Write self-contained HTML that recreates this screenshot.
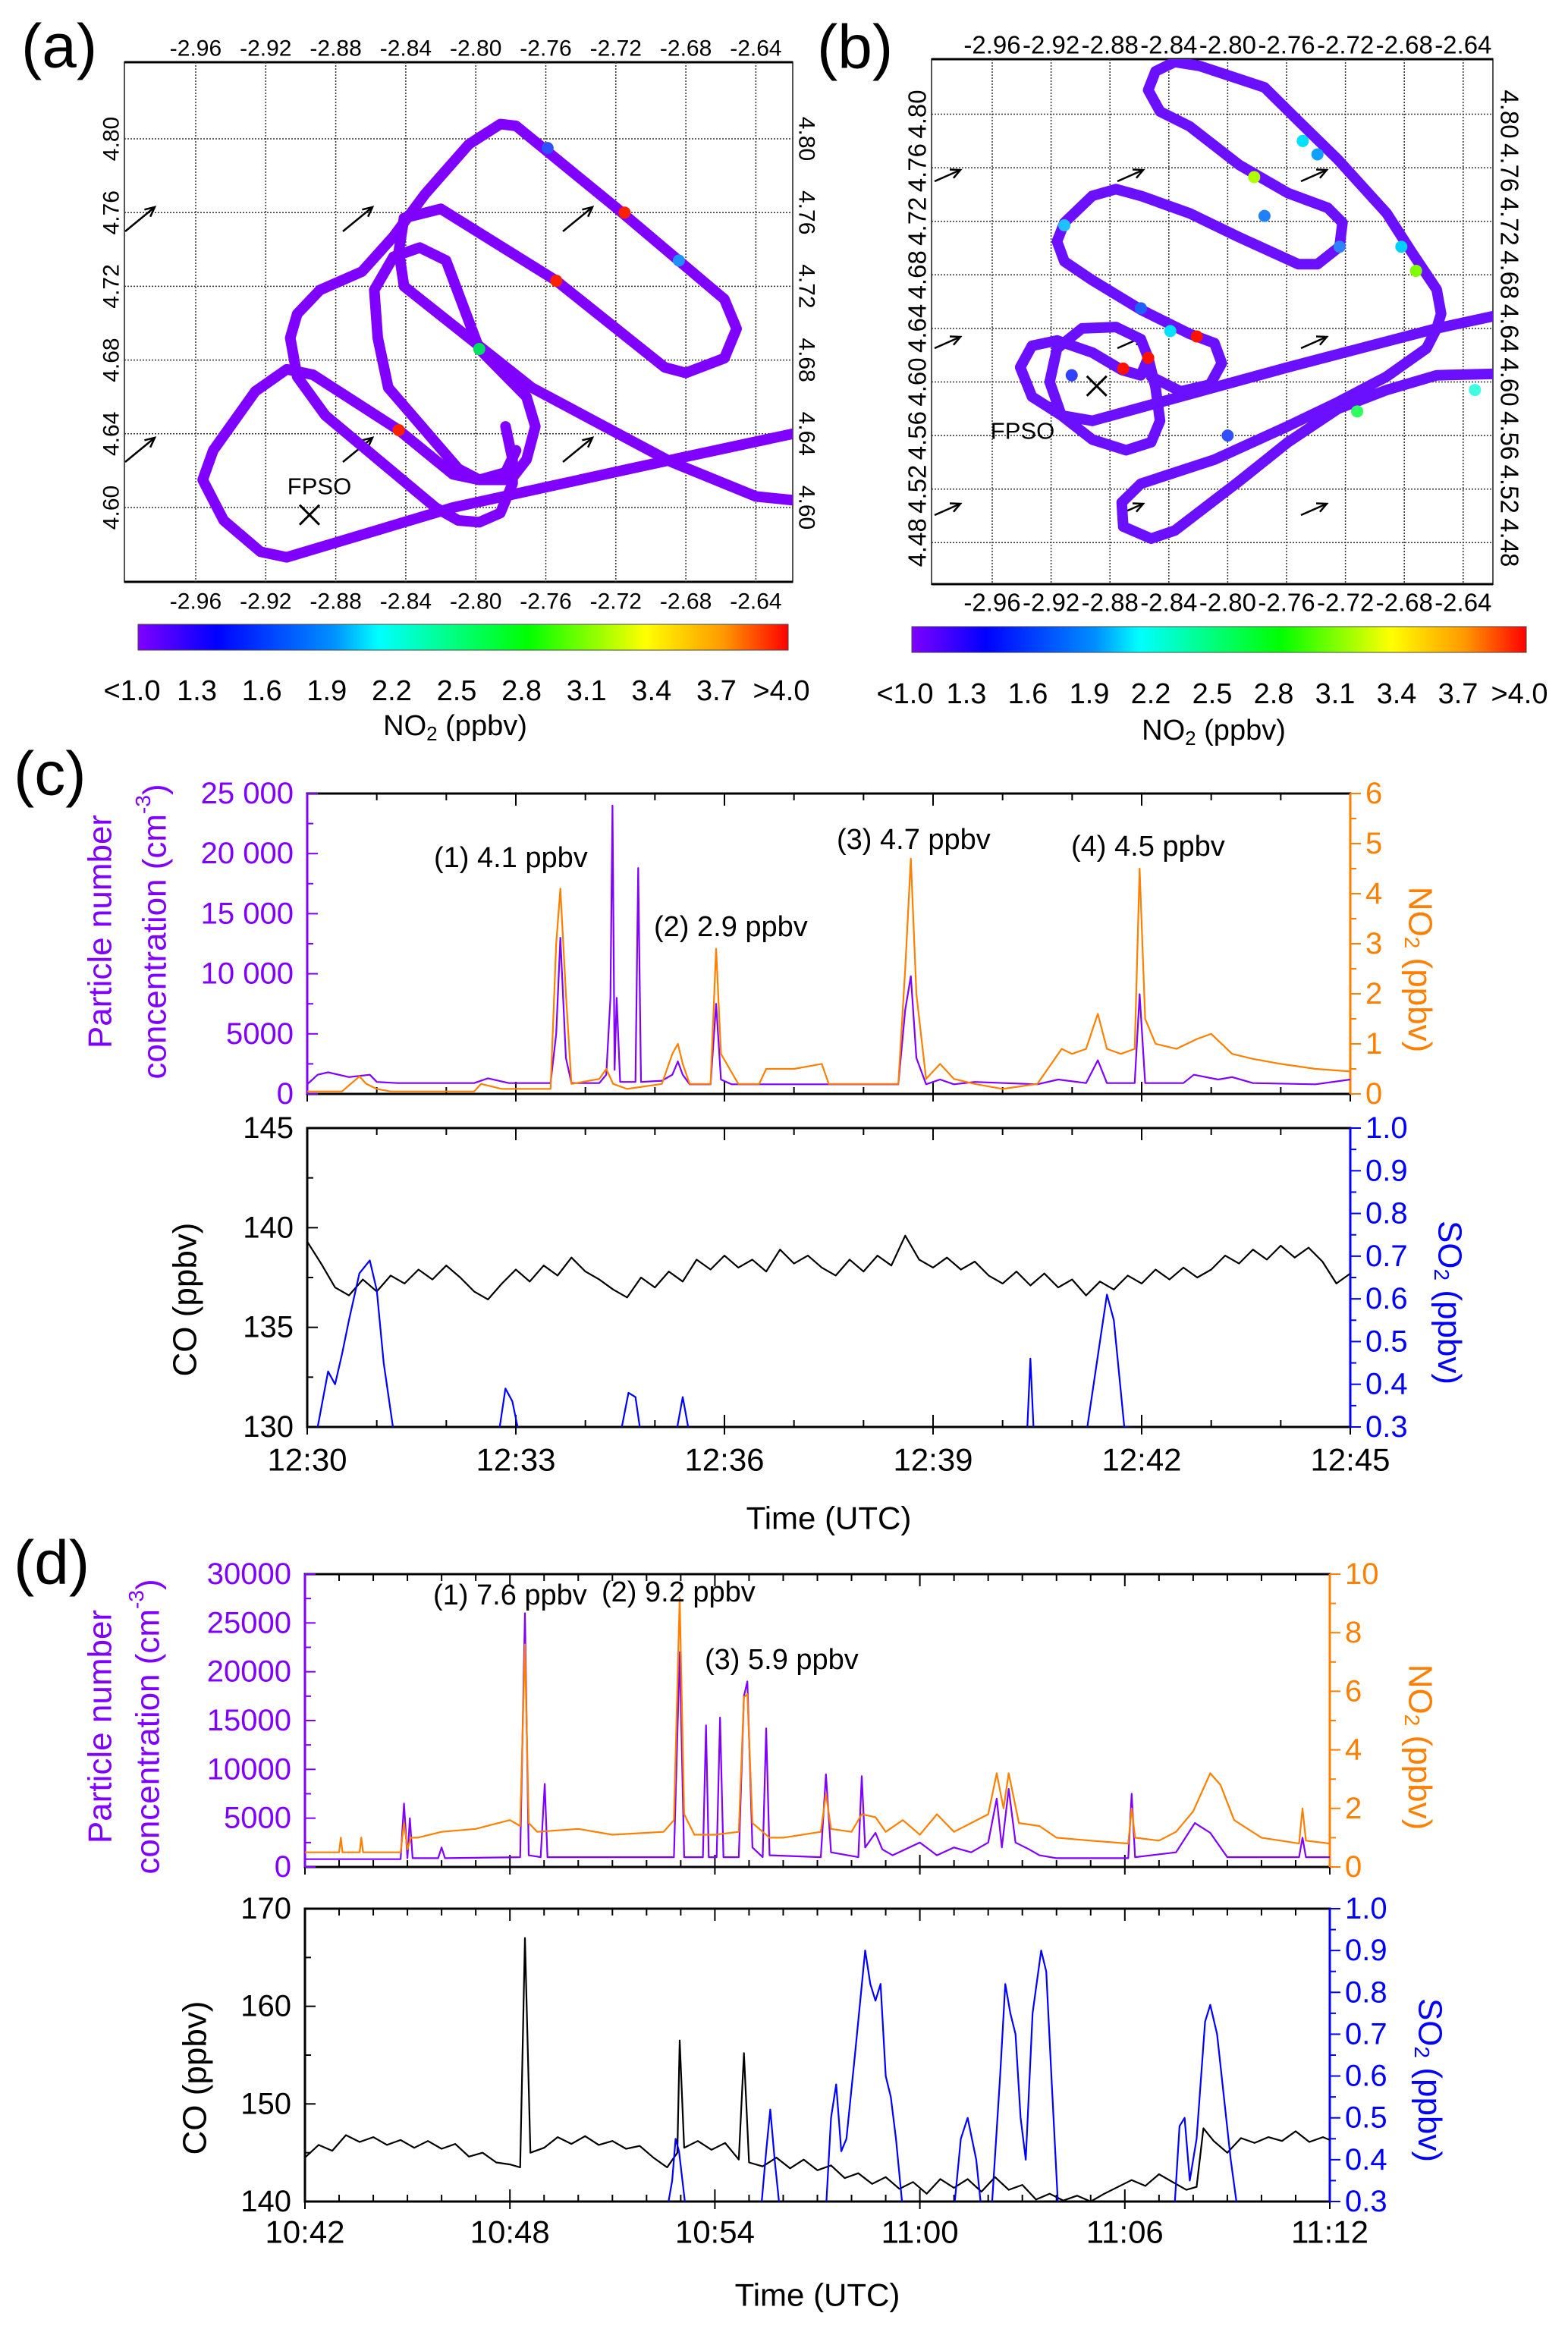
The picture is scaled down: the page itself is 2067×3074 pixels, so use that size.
<!DOCTYPE html>
<html><head><meta charset="utf-8"><style>
html,body{margin:0;padding:0;background:#fff}
svg{display:block;font-family:"Liberation Sans",Arial,sans-serif}
</style></head><body>
<svg id="fig" width="2067" height="3074" viewBox="0 0 2067 3074" xmlns="http://www.w3.org/2000/svg">
<defs>
<linearGradient id="cbar" x1="0" x2="1" y1="0" y2="0">
<stop offset="0" stop-color="#7f00ff"/><stop offset="0.12" stop-color="#0000ff"/><stop offset="0.3" stop-color="#0090ff"/><stop offset="0.37" stop-color="#00ffff"/><stop offset="0.6" stop-color="#00ff00"/><stop offset="0.78" stop-color="#ffff00"/><stop offset="0.9" stop-color="#ff9900"/><stop offset="1" stop-color="#ff0000"/>
</linearGradient>
<clipPath id="clipA"><rect x="164" y="82" width="881" height="685"/></clipPath>
<clipPath id="clipB"><rect x="1228" y="78" width="740" height="692"/></clipPath>
<clipPath id="clipC1"><rect x="405" y="1040" width="1375" height="402"/></clipPath>
<clipPath id="clipC2"><rect x="405" y="1487" width="1375" height="394"/></clipPath>
<clipPath id="clipD1"><rect x="402" y="2070" width="1351" height="391"/></clipPath>
<clipPath id="clipD2"><rect x="402" y="2516" width="1351" height="386"/></clipPath>
</defs>
</svg>
<script>
// ===== Map (a) data =====
const aLatTicks=[4.60,4.64,4.68,4.72,4.76,4.80];
const lonTicks=[-2.96,-2.92,-2.88,-2.84,-2.80,-2.76,-2.72,-2.68,-2.64];
const aTrackLine=[[-2.908,4.573],[-2.813,4.600],[-2.707,4.622],[-2.619,4.640]];
const aTrackLeft=[[-2.908,4.573],[-2.923,4.576],[-2.944,4.593],[-2.956,4.615],[-2.950,4.631],[-2.926,4.663],[-2.908,4.675],[-2.893,4.672],[-2.844,4.642],[-2.813,4.618],[-2.798,4.615],[-2.783,4.619],[-2.777,4.631]];
const aTrackInner=[[-2.832,4.741],[-2.817,4.734],[-2.798,4.686],[-2.771,4.660],[-2.766,4.644],[-2.771,4.626],[-2.780,4.615],[-2.798,4.615],[-2.810,4.621],[-2.850,4.665],[-2.856,4.692],[-2.858,4.718],[-2.847,4.736],[-2.832,4.741]];
const aTrackOuter=[[-2.841,4.757],[-2.820,4.762],[-2.754,4.723],[-2.692,4.676],[-2.680,4.673],[-2.658,4.681],[-2.651,4.697],[-2.658,4.713],[-2.719,4.762],[-2.777,4.807],[-2.786,4.808],[-2.804,4.797],[-2.829,4.770],[-2.847,4.747],[-2.865,4.728],[-2.889,4.718],[-2.902,4.705],[-2.906,4.692],[-2.902,4.671],[-2.886,4.650],[-2.823,4.600],[-2.810,4.593],[-2.798,4.592],[-2.786,4.597],[-2.779,4.613],[-2.779,4.626],[-2.783,4.644]];
const aTrackDiag=[[-2.841,4.757],[-2.844,4.739],[-2.841,4.720],[-2.768,4.665],[-2.689,4.625],[-2.640,4.606],[-2.619,4.604]];
const aSpotLon=[-2.715,-2.754,-2.798,-2.844,-2.684,-2.759];
const aSpotLat=[4.760,4.723,4.686,4.642,4.734,4.795];
const aSpotCol=["#ff2000","#ff2000","#00e060","#ff2000","#2090ff","#3050ff"];
// ===== Map (b) data =====
const bLatTicks=[4.48,4.52,4.56,4.60,4.64,4.68,4.72,4.76,4.80];
const bTrackLine=[[-2.892,4.571],[-2.759,4.611],[-2.658,4.640],[-2.620,4.649]];
const bTrackLoop1=[[-2.892,4.571],[-2.913,4.575],[-2.933,4.589],[-2.941,4.611],[-2.933,4.627],[-2.916,4.631],[-2.892,4.622],[-2.872,4.609],[-2.859,4.605],[-2.854,4.618],[-2.859,4.632],[-2.876,4.641],[-2.899,4.640],[-2.916,4.625],[-2.921,4.600],[-2.913,4.575],[-2.892,4.557],[-2.869,4.549],[-2.852,4.555],[-2.846,4.571],[-2.849,4.596],[-2.854,4.618]];
const bTrackS=[[-2.852,4.604],[-2.832,4.593],[-2.812,4.598],[-2.804,4.614],[-2.809,4.629],[-2.826,4.636],[-2.859,4.654],[-2.892,4.676],[-2.911,4.690],[-2.916,4.705],[-2.911,4.719],[-2.892,4.739],[-2.876,4.744],[-2.859,4.739],[-2.826,4.726],[-2.792,4.708],[-2.752,4.688],[-2.739,4.688],[-2.724,4.701],[-2.722,4.719],[-2.732,4.730],[-2.759,4.741],[-2.792,4.762],[-2.826,4.791],[-2.846,4.802],[-2.854,4.818],[-2.849,4.832],[-2.836,4.839],[-2.819,4.836],[-2.775,4.820],[-2.752,4.795],[-2.725,4.766],[-2.692,4.726],[-2.675,4.697],[-2.658,4.669],[-2.655,4.651],[-2.658,4.640],[-2.665,4.625],[-2.692,4.604],[-2.725,4.585],[-2.759,4.567],[-2.809,4.542],[-2.859,4.524],[-2.872,4.510],[-2.871,4.492],[-2.852,4.483],[-2.836,4.489],[-2.792,4.526],[-2.759,4.555],[-2.725,4.580],[-2.692,4.594],[-2.658,4.605],[-2.620,4.606]];
const bSpotLon=[-2.749,-2.682,-2.632,-2.839,-2.911,-2.782,-2.672,-2.712,-2.821,-2.871,-2.854,-2.775,-2.739,-2.859,-2.724,-2.800,-2.906];
const bSpotLat=[4.780,4.701,4.594,4.638,4.717,4.753,4.683,4.578,4.634,4.610,4.618,4.724,4.770,4.655,4.701,4.560,4.605];
const bSpotCol=["#00e0ff","#00d0ff","#40ffe0","#00e0ff","#20c0ff","#b0ff00","#80ff00","#30ff60","#ff1000","#ff1000","#ff1000","#2080ff","#10a0ff","#2060ff","#3080ff","#3050ff","#3040ff"];
const cbLabels=["<1.0","1.3","1.6","1.9","2.2","2.5","2.8","3.1","3.4","3.7",">4.0"];
// ===== Panel (c) data =====
const cPartT=[0,0.15,0.3,0.6,0.9,1.0,1.3,2.4,2.6,2.9,3.5,3.58,3.64,3.72,3.8,4.2,4.3,4.36,4.39,4.42,4.45,4.5,4.72,4.76,4.8,5.1,5.25,5.33,5.4,5.5,5.8,5.88,5.95,6.1,8.5,8.6,8.68,8.76,8.9,9.1,9.3,9.6,10.5,10.8,11.2,11.37,11.5,11.9,11.97,12.05,12.6,12.75,13.1,13.3,13.6,14.5,15];
const cPartV=[800,1600,1800,1400,1600,1000,900,900,1300,900,900,5000,13000,3000,900,900,1600,8000,24000,2000,8000,1000,1000,18800,1000,1100,1600,2700,1600,800,800,7500,1200,800,800,7000,9800,3000,800,1200,800,1000,800,1200,900,2800,900,900,8300,900,900,1600,1200,1400,900,800,1200];
const cNo2T=[0,0.5,0.75,0.85,1.0,1.2,1.6,2.4,2.5,2.8,3.5,3.58,3.64,3.72,3.8,4.2,4.3,4.4,4.6,5.1,5.25,5.33,5.4,5.5,5.8,5.88,5.95,6.2,6.5,6.6,7.0,7.4,7.5,8.5,8.6,8.68,8.76,8.9,9.1,9.3,9.6,10.0,10.5,10.75,10.85,11.0,11.2,11.37,11.5,11.7,11.9,11.97,12.05,12.2,12.5,12.8,13.0,13.3,13.6,14.0,14.5,15];
const cNo2V=[0.05,0.05,0.35,0.2,0.1,0.05,0.05,0.05,0.2,0.1,0.1,3.0,4.1,2.0,0.2,0.3,0.5,0.2,0.1,0.2,0.8,1.0,0.6,0.2,0.2,2.9,0.8,0.2,0.2,0.5,0.5,0.6,0.2,0.2,2.5,4.7,2.0,0.3,0.6,0.3,0.2,0.1,0.2,0.7,0.9,0.8,0.9,1.6,0.9,0.8,0.9,4.5,1.5,1.0,0.9,1.1,1.2,0.8,0.7,0.6,0.5,0.45];
const cCoV=[139.3,138.2,137.0,136.6,137.4,136.8,137.6,137.2,137.9,137.4,138.1,137.5,136.8,136.4,137.2,137.9,137.3,138.1,137.6,138.5,137.8,137.4,136.9,136.5,137.5,137.0,137.8,137.3,138.4,137.9,138.6,138.0,138.4,137.8,138.9,138.2,138.6,138.0,137.6,138.4,137.8,138.6,138.1,139.6,138.4,138.0,138.5,137.9,138.3,137.6,137.2,137.8,137.1,137.7,137.0,137.4,136.6,137.3,136.9,137.6,137.2,137.9,137.4,138.0,137.5,137.9,138.6,138.2,138.9,138.4,139.1,138.5,139.0,138.3,137.2,137.7];
const cCoStep=0.2;
const cSo2T=[0,0.15,0.3,0.4,0.5,0.6,0.75,0.9,1.0,1.1,1.25,2.75,2.85,2.95,3.05,4.5,4.62,4.72,4.8,5.3,5.4,5.5,10.35,10.4,10.45,11.2,11.4,11.5,11.6,11.75,15];
const cSo2V=[0.25,0.3,0.43,0.4,0.47,0.55,0.66,0.69,0.62,0.45,0.28,0.28,0.39,0.36,0.28,0.28,0.38,0.37,0.28,0.28,0.37,0.28,0.28,0.46,0.28,0.28,0.5,0.61,0.55,0.3,0.25];
const cTimeLabels=["12:30","12:33","12:36","12:39","12:42","12:45"];
const cPartTicks=["0","5000","10 000","15 000","20 000","25 000"];
// ===== Panel (d) data =====
const dPartT=[0,2.8,2.9,3.0,3.07,3.15,3.9,4.0,4.1,6.3,6.44,6.55,6.9,7.02,7.1,10.8,10.97,11.1,11.65,11.74,11.82,12.05,12.15,12.25,12.7,12.85,12.95,13.1,13.4,13.5,13.6,15.1,15.25,15.4,16.2,16.3,16.4,16.7,16.9,17.2,18,18.5,19.0,19.5,20.0,20.25,20.4,20.6,20.8,21.2,21.5,22,24.1,24.2,24.3,25.5,26.05,26.5,27,29.1,29.2,29.3,30];
const dPartV=[800,800,6500,900,5000,900,900,2000,900,1000,26000,1200,1000,8500,1000,1000,22000,1000,1000,14500,1000,1000,15300,1000,1000,17500,19000,2000,1000,14200,1200,1000,9500,1500,1000,9300,2000,3500,1800,1200,2500,1200,2000,1500,2500,7000,2000,8000,2500,1800,1200,900,900,7500,1000,1500,4500,3500,1000,1000,3000,1000,1000];
const dNo2T=[0,1.0,1.05,1.1,1.6,1.65,1.7,2.8,2.9,3.0,3.1,3.3,4,5,6.0,6.3,6.44,6.55,6.8,8,9,10.5,10.8,10.97,11.1,11.4,12,12.7,12.85,12.95,13.1,13.6,14,15.1,15.25,15.4,16,16.3,16.7,17,17.5,18,18.5,19,19.5,20,20.25,20.45,20.6,20.9,21.5,22,23,24.1,24.2,24.3,25,25.5,26.0,26.5,26.8,27.2,28,29.1,29.2,29.3,30];
const dNo2V=[0.5,0.5,1.0,0.5,0.5,1.0,0.5,0.5,1.5,0.6,1.0,1.0,1.2,1.3,1.6,1.4,7.6,1.5,1.2,1.3,1.1,1.2,1.6,9.2,1.8,1.1,1.1,1.2,5.8,5.9,1.5,1.0,1.0,1.2,2.5,1.3,1.2,1.8,1.7,1.2,1.6,1.1,1.8,1.2,1.5,1.8,3.2,2.0,3.2,1.5,1.4,1.0,0.9,0.8,2.0,1.0,0.9,1.2,1.9,3.2,2.8,1.6,1.0,0.8,2.0,0.9,0.8];
const dCoT=[0,0.4,0.8,1.2,1.6,2.0,2.4,2.8,3.2,3.6,4.0,4.4,4.8,5.2,5.6,6.0,6.3,6.44,6.6,7.0,7.4,7.8,8.2,8.6,9.0,9.4,9.8,10.2,10.6,10.9,10.97,11.1,11.5,11.9,12.3,12.7,12.85,13.0,13.4,13.8,14.2,14.6,15.0,15.4,15.8,16.2,16.6,17.0,17.4,17.8,18.2,18.6,19.0,19.4,19.8,20.2,20.6,21.0,21.4,21.8,22.2,22.6,23.0,23.4,23.8,24.2,24.6,25.0,25.4,25.8,26.1,26.3,26.6,27.0,27.4,27.8,28.2,28.6,29.0,29.4,29.8,30];
const dCoV=[144.5,145.8,145.2,146.8,146.1,146.6,145.8,146.3,145.5,146.2,145.4,145.9,144.6,145.0,144.0,143.8,143.5,167,145,145.5,146.6,145.9,146.7,145.8,146.2,145.4,145.7,144.5,143.5,145,156.5,145.5,146.2,145.3,146.0,144.3,155.2,144,143.6,144.5,143.4,144.3,143.2,143.7,142.4,142.9,141.8,142.5,141.3,142.0,140.8,142.3,141.4,142.3,141.0,142.5,141.2,141.7,140.2,140.8,140.1,140.6,140.0,140.8,141.5,142.2,141.6,142.8,142.0,141.2,141.5,147.5,146.2,145.0,146.5,146.0,146.6,146.2,147.2,146.1,146.6,146.3];
const dSo2T=[10.6,10.75,10.85,10.95,11.15,13.35,13.5,13.62,13.75,13.9,15.25,15.4,15.55,15.7,15.85,16.1,16.4,16.55,16.7,16.85,17.0,17.15,17.3,17.5,19.0,19.2,19.4,19.65,19.8,20.1,20.35,20.5,20.65,20.8,20.95,21.1,21.3,21.55,21.7,21.85,22.05,25.45,25.6,25.75,25.9,26.1,26.35,26.5,26.7,26.9,27.1,27.3];
const dSo2V=[0.28,0.35,0.45,0.42,0.28,0.28,0.42,0.52,0.4,0.28,0.28,0.5,0.58,0.42,0.45,0.65,0.9,0.82,0.78,0.82,0.6,0.55,0.45,0.28,0.28,0.45,0.5,0.4,0.28,0.28,0.6,0.82,0.75,0.7,0.5,0.4,0.75,0.9,0.85,0.6,0.28,0.28,0.48,0.5,0.35,0.45,0.73,0.77,0.7,0.55,0.4,0.28];
const dTimeLabels=["10:42","10:48","10:54","11:00","11:06","11:12"];
const dPartTicks=["0","5000","10000","15000","20000","25000","30000"];

const NS="http://www.w3.org/2000/svg";
const svg=document.getElementById('fig');
function mk(tag,attrs,parent){const e=document.createElementNS(NS,tag);for(const k in attrs)e.setAttribute(k,attrs[k]);(parent||svg).appendChild(e);return e;}
function txt(s,x,y,size,fill,anchor,rot,parent){const t=mk('text',{x:x,y:y,'font-size':size,fill:fill||'#000','text-anchor':anchor||'middle','dominant-baseline':'central'},parent);if(rot)t.setAttribute('transform','rotate('+rot+' '+x+' '+y+')');t.textContent=s;return t;}
function pathD(pts){return pts.map((p,i)=>(i?'L':'M')+p[0].toFixed(1)+' '+p[1].toFixed(1)).join(' ');}

// ===== Maps =====
function drawMap(cfg){
  const g=mk('g',{});
  
  
  const X=lon=>cfg.x0+(lon+2.96)/0.04*cfg.sx;
  const Y=lat=>cfg.y0+(4.80-lat)/0.04*cfg.sy;
  const fr=mk('rect',{x:cfg.fx,y:cfg.fy,width:cfg.fw,height:cfg.fh,fill:'#fff',stroke:'#555','stroke-width':2},g);
  
  
  mk('line',{x1:cfg.fx,y1:cfg.fy,x2:cfg.fx+cfg.fw,y2:cfg.fy,stroke:'#000','stroke-width':3},g);
  mk('line',{x1:cfg.fx,y1:cfg.fy+cfg.fh,x2:cfg.fx+cfg.fw,y2:cfg.fy+cfg.fh,stroke:'#000','stroke-width':3},g);
  lonTicks.forEach(l=>{
    const x=X(l);
    const gl=mk('line',{x1:x,y1:cfg.fy,x2:x,y2:cfg.fy+cfg.fh,stroke:'#333','stroke-width':1.5,'stroke-dasharray':'2 2'},g);
    
    
    const t1=txt(l.toFixed(2),x,cfg.topY,cfg.fs,'#000','middle',0,g);
    
    
    const t2=txt(l.toFixed(2),x,cfg.botY,cfg.fs,'#000','middle',0,g);
    
    
  });
  cfg.lats.forEach(l=>{
    const y=Y(l);
    const gl=mk('line',{x1:cfg.fx,y1:y,x2:cfg.fx+cfg.fw,y2:y,stroke:'#333','stroke-width':1.5,'stroke-dasharray':'2 2'},g);
    
    
    const t1=txt(l.toFixed(2),cfg.leftX,y,cfg.fs,'#000','middle',-90,g);
    
    
    const t2=txt(l.toFixed(2),cfg.rightX,y,cfg.fs,'#000','middle',90,g);
    
    
  });
  cfg.arrows.forEach(a=>{
    const ag=mk('g',{stroke:'#000','stroke-width':2.5,fill:'none'},g);
    
    
    const x2=a[0]+cfg.av[0],y2=a[1]+cfg.av[1];
    mk('line',{x1:a[0],y1:a[1],x2:x2,y2:y2},ag);
    const ang=Math.atan2(cfg.av[1],cfg.av[0]);
    const L=14;
    mk('path',{d:'M'+(x2-L*Math.cos(ang-0.45))+' '+(y2-L*Math.sin(ang-0.45))+' L'+x2+' '+y2+' L'+(x2-L*Math.cos(ang+0.45))+' '+(y2-L*Math.sin(ang+0.45))},ag);
  });
  const tg=mk('g',{'clip-path':'url(#'+cfg.clip+')'},g);
  cfg.tracks.forEach(tr=>{
    const p=mk('path',{d:pathD(tr.map(q=>[X(q[0]),Y(q[1])])),fill:'none',stroke:cfg.trackCol,'stroke-width':14,'stroke-linecap':'round','stroke-linejoin':'round'},tg);
    
    
  });
  cfg.spotLon.forEach((lo,i)=>{
    const c=mk('circle',{cx:X(lo),cy:Y(cfg.spotLat[i]),r:8,fill:cfg.spotCol[i]},tg);
    
    
  });
  const fx=X(cfg.fpso[0]),fy=Y(cfg.fpso[1]);
  const xm=mk('path',{d:`M${fx-13} ${fy-13} L${fx+13} ${fy+13} M${fx+13} ${fy-13} L${fx-13} ${fy+13}`,stroke:'#000','stroke-width':3},g);
  
  
  const ft=txt('FPSO',cfg.fpsoText[0],cfg.fpsoText[1],31,'#000','middle',0,g);
  
  
  const cb=mk('rect',{x:cfg.cb[0],y:cfg.cb[1],width:cfg.cb[2],height:cfg.cb[3],fill:'url(#cbar)',stroke:'#444','stroke-width':1},g);
  
  
  cbLabels.forEach((s,i)=>{
    const t=txt(s,cfg.cbl[0]+i*cfg.cbl[1],cfg.cbl[2],38,'#000','middle',0,g);
    
    
  });
  const ct=mk('text',{x:cfg.cbt[0],y:cfg.cbt[1],'font-size':38,'text-anchor':'middle','dominant-baseline':'central'},g);
  
  
  ct.innerHTML='NO<tspan font-size="26" dy="10">2</tspan><tspan dy="-10"> (ppbv)</tspan>';
  const pl=txt(cfg.label,cfg.labelPos[0],cfg.labelPos[1],82,'#000','start',0,g);
  
  
}
drawMap({name:'map-a',x0:258,sx:92.3,y0:183,sy:97.2,fx:164,fy:82,fw:881,fh:685,lats:aLatTicks,topY:64,botY:793,leftX:147,rightX:1063,fs:30,
  arrows:[[165,305],[452,305],[742,305],[165,609],[452,609],[742,609]],av:[39,-32],clip:'clipA',trackCol:'#7f00ff',
  tracks:[aTrackLine,aTrackLeft,aTrackInner,aTrackOuter,aTrackDiag],spotLon:aSpotLon,spotLat:aSpotLat,spotCol:aSpotCol,
  fpso:[-2.895,4.596],fpsoText:[421,641],cb:[182,823,857,34],cbl:[174,85.6,911],cbt:[600,957],label:'(a)',labelPos:[28,61]});
drawMap({name:'map-b',x0:1308,sx:77.6,y0:150.5,sy:70.6,fx:1228,fy:78,fw:740,fh:692,lats:bLatTicks,topY:59,botY:794,leftX:1209,rightX:1990,fs:33,
  arrows:[[1232,239],[1473,239],[1715,239],[1232,459],[1473,459],[1715,459],[1232,679],[1473,679],[1715,679]],av:[34,-15],clip:'clipB',trackCol:'#6a10ff',
  tracks:[bTrackLine,bTrackLoop1,bTrackS],spotLon:bSpotLon,spotLat:bSpotLat,spotCol:bSpotCol,
  fpso:[-2.889,4.597],fpsoText:[1348,568],cb:[1202,826,810,34],cbl:[1193,81,915],cbt:[1600,963],label:'(b)',labelPos:[1077,62]});

// ===== Time-series panels =====
function tsPanel(P){
  const g=mk('g',{});
  
  
  const X=t=>P.x0+t/P.tmax*(P.x1-P.x0);
  const mkY=(y0,y1,v0,v1)=>v=>y1-(v-v0)/(v1-v0)*(y1-y0);
  const Yp=mkY(P.t1,P.b1,0,P.pMax), Yn=mkY(P.t1,P.b1,0,P.nMax);
  const Yc=mkY(P.t2,P.b2,P.coMin,P.coMax), Ys=mkY(P.t2,P.b2,0.3,1.0);
  [[P.t1,P.b1],[P.t2,P.b2]].forEach((f,k)=>{
    const r=mk('rect',{x:P.x0,y:f[0],width:P.x1-P.x0,height:f[1]-f[0],fill:'none',stroke:'#000','stroke-width':3},g);
    
    
    for(let m=0;m<=P.tmax;m+=1){
      const x=X(m),maj=(m%P.tmaj===0),L=maj?16:9;
      mk('line',{x1:x,y1:f[1],x2:x,y2:f[1]-L,stroke:'#000','stroke-width':2},g);
      mk('line',{x1:x,y1:f[0],x2:x,y2:f[0]+L,stroke:'#000','stroke-width':2},g);
      if(maj){mk('line',{x1:x,y1:f[1],x2:x,y2:f[1]+10,stroke:'#000','stroke-width':2},g);}
    }
  });
  mk('line',{x1:P.x0,y1:P.t1,x2:P.x0,y2:P.b1,stroke:'#8000ff','stroke-width':3},g);
  mk('line',{x1:P.x1,y1:P.t1,x2:P.x1,y2:P.b1,stroke:'#ff8000','stroke-width':3},g);
  mk('line',{x1:P.x1,y1:P.t2,x2:P.x1,y2:P.b2,stroke:'#0000ff','stroke-width':3},g);
  P.pTicks.forEach((s,i)=>{
    const v=i*P.pStep,y=Yp(v);
    mk('line',{x1:P.x0,y1:y,x2:P.x0+14,y2:y,stroke:'#8000ff','stroke-width':2},g);
    if(i<P.pTicks.length-1) mk('line',{x1:P.x0,y1:Yp(v+P.pStep/2),x2:P.x0+8,y2:Yp(v+P.pStep/2),stroke:'#8000ff','stroke-width':2},g);
    const t=txt(s,P.x0-18,y,40,'#8000ff','end',0,g);
    
    
  });
  for(let v=0;v<=P.nMax;v+=P.nStep){
    const y=Yn(v);
    mk('line',{x1:P.x1,y1:y,x2:P.x1+14,y2:y,stroke:'#ff8000','stroke-width':2},g);
    if(v<P.nMax) mk('line',{x1:P.x1,y1:Yn(v+P.nStep/2),x2:P.x1+8,y2:Yn(v+P.nStep/2),stroke:'#ff8000','stroke-width':2},g);
    const t=txt(String(v),P.x1+20,y,40,'#ff8000','start',0,g);
    
    
  }
  for(let v=P.coMin;v<=P.coMax;v+=P.coStep){
    const y=Yc(v);
    mk('line',{x1:P.x0,y1:y,x2:P.x0+14,y2:y,stroke:'#000','stroke-width':2},g);
    if(v<P.coMax) mk('line',{x1:P.x0,y1:Yc(v+P.coStep/2),x2:P.x0+8,y2:Yc(v+P.coStep/2),stroke:'#000','stroke-width':2},g);
    const t=txt(String(v),P.x0-18,y,40,'#000','end',0,g);
    
    
  }
  for(let k=3;k<=10;k++){
    const v=k/10,y=Ys(v);
    mk('line',{x1:P.x1,y1:y,x2:P.x1+14,y2:y,stroke:'#0000ff','stroke-width':2},g);
    if(k<10) mk('line',{x1:P.x1,y1:Ys(v+0.05),x2:P.x1+8,y2:Ys(v+0.05),stroke:'#0000ff','stroke-width':2},g);
    const t=txt(v.toFixed(1),P.x1+20,y,40,'#0000ff','start',0,g);
    
    
  }
  P.timeLabels.forEach((s,i)=>{
    const t=txt(s,X(i*P.tmaj),P.timeY,42,'#000','middle',0,g);
    
    
  });
  const tt=txt('Time (UTC)',(P.x0+P.x1)/2,P.titleY,42,'#000','middle',0,g);
  
  
  const g1=mk('g',{'clip-path':'url(#'+P.clip1+')',fill:'none','stroke-width':2.2,'stroke-linejoin':'round'},g);
  const g2=mk('g',{'clip-path':'url(#'+P.clip2+')',fill:'none','stroke-width':2.2,'stroke-linejoin':'round'},g);
  const s1=mk('path',{d:pathD(P.partT.map((t,i)=>[X(t),Yp(P.partV[i])])),stroke:'#8000ff'},g1);
  
  
  const s2=mk('path',{d:pathD(P.no2T.map((t,i)=>[X(t),Yn(P.no2V[i])])),stroke:'#ff8000'},g1);
  
  
  const s3=mk('path',{d:pathD(P.coT.map((t,i)=>[X(t),Yc(P.coV[i])])),stroke:'#000'},g2);
  
  
  const s4=mk('path',{d:pathD(P.so2T.map((t,i)=>[X(t),Ys(P.so2V[i])])),stroke:'#0000ff'},g2);
  
  
  P.notes.forEach(n=>{
    const t=txt(n[0],n[1],n[2],38,'#000','start',0,g);
    
    
  });
  const a1=txt('Particle number',P.pt1[0],P.pt1[1],44,'#8000ff','middle',-90,g);
  
  
  const a2=mk('text',{x:P.pt2[0],y:P.pt2[1],'font-size':44,fill:'#8000ff','text-anchor':'middle','dominant-baseline':'central',transform:`rotate(-90 ${P.pt2[0]} ${P.pt2[1]})`},g);
  
  
  a2.innerHTML='concentration (cm<tspan font-size="28" dy="-16">-3</tspan><tspan dy="16">)</tspan>';
  const a3=mk('text',{x:P.nt[0],y:P.nt[1],'font-size':44,fill:'#ff8000','text-anchor':'middle','dominant-baseline':'central',transform:`rotate(90 ${P.nt[0]} ${P.nt[1]})`},g);
  
  
  a3.innerHTML='NO<tspan font-size="28" dy="10">2</tspan><tspan dy="-10"> (ppbv)</tspan>';
  const a4=txt('CO (ppbv)',P.cot[0],P.cot[1],44,'#000','middle',-90,g);
  
  
  const a5=mk('text',{x:P.st[0],y:P.st[1],'font-size':44,fill:'#0000ff','text-anchor':'middle','dominant-baseline':'central',transform:`rotate(90 ${P.st[0]} ${P.st[1]})`},g);
  
  
  a5.innerHTML='SO<tspan font-size="28" dy="10">2</tspan><tspan dy="-10"> (ppbv)</tspan>';
  const pl=txt(P.label,18,P.labelY,82,'#000','start',0,g);
  
  
}
const cCoT=cCoV.map((v,i)=>i*cCoStep);
tsPanel({name:'panel-c',x0:405,x1:1780,t1:1046,b1:1442,t2:1487,b2:1881,tmax:15,tmaj:3,pMax:25000,pStep:5000,pTicks:cPartTicks,nMax:6,nStep:1,coMin:130,coMax:145,coStep:5,
  timeLabels:cTimeLabels,timeY:1924,titleY:2001,clip1:'clipC1',clip2:'clipC2',
  partT:cPartT,partV:cPartV,no2T:cNo2T,no2V:cNo2V,coT:cCoT,coV:cCoV,so2T:cSo2T,so2V:cSo2V,
  notes:[['(1) 4.1 ppbv',572,1131],['(2) 2.9 ppbv',862,1222],['(3) 4.7 ppbv',1103,1107],['(4) 4.5 ppbv',1412,1116]],
  pt1:[132,1228],pt2:[204,1228],nt:[1872,1278],cot:[244,1713],st:[1911,1717],label:'(c)',labelY:1020});
tsPanel({name:'panel-d',x0:402,x1:1753,t1:2075,b1:2461,t2:2516,b2:2902,tmax:30,tmaj:6,pMax:30000,pStep:5000,pTicks:dPartTicks,nMax:10,nStep:2,coMin:140,coMax:170,coStep:10,
  timeLabels:dTimeLabels,timeY:2942,titleY:3025,clip1:'clipD1',clip2:'clipD2',
  partT:dPartT,partV:dPartV,no2T:dNo2T,no2V:dNo2V,coT:dCoT,coV:dCoV,so2T:dSo2T,so2V:dSo2V,
  notes:[['(1) 7.6 ppbv',571,2103],['(2) 9.2 ppbv',793,2099],['(3) 5.9 ppbv',929,2188]],
  pt1:[132,2276],pt2:[195,2276],nt:[1872,2303],cot:[257,2739],st:[1885,2742],label:'(d)',labelY:2060});
</script>
</body></html>
